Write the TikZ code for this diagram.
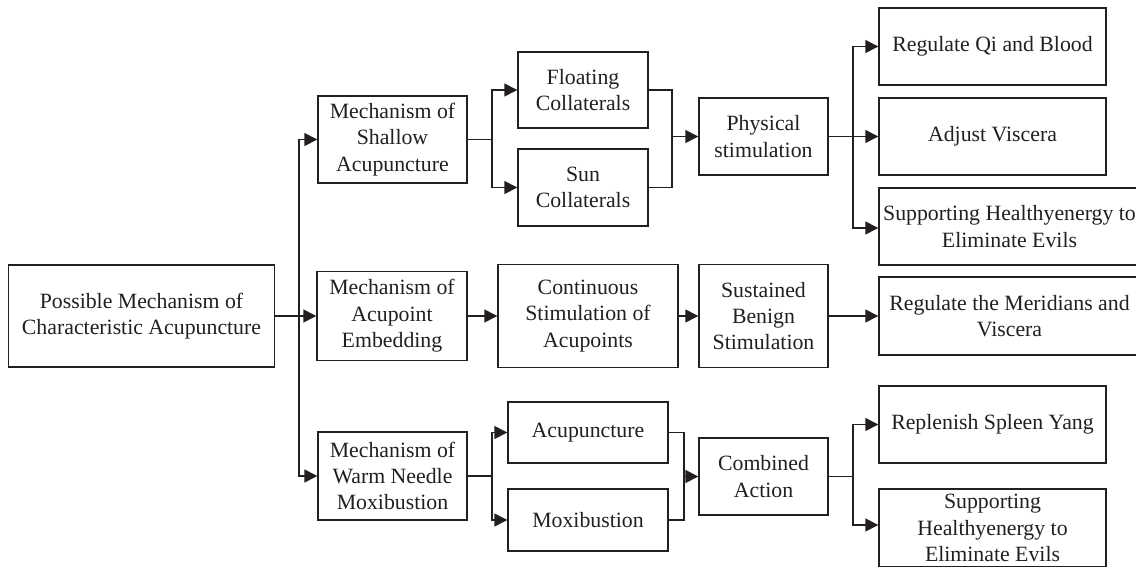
\documentclass[tikz,border=0pt]{standalone}
\usepackage{fontspec}
\setmainfont{Liberation Serif}
\usetikzlibrary{arrows.meta}
\definecolor{ink}{HTML}{231F20}
\begin{document}
\begin{tikzpicture}[x=0.5pt,y=-0.5pt,
  every node/.style={font=\fontsize{10.9pt}{13.2pt}\selectfont, text=ink},
  box/.style={draw=ink, line width=0.7pt, align=center, inner sep=0pt},
  wh/.style 2 args={minimum width={0.5pt*#1}, minimum height={0.5pt*#2}},
  conn/.style={draw=ink, line width=0.7pt},
  arr/.style={conn, -{Triangle[length=6.5pt,width=6.5pt]}}]
\clip (0,0) rectangle (1136,567);
\fill[white] (0,0) rectangle (1136,567);
% nodes
\node[box, wh={266}{102}] (root) at (141.5,316) {Possible Mechanism of\\Characteristic Acupuncture};
\node[box, wh={149}{87}] (shallow) at (392.5,139.5) {Mechanism of\\Shallow\\Acupuncture};
\node[box, wh={150}{89}] (embed) at (392,316) {Mechanism of\\Acupoint\\Embedding};
\node[box, wh={149}{88}] (warm) at (392.5,476) {Mechanism of\\Warm Needle\\Moxibustion};
\node[box, wh={130}{76}] (float) at (583,90) {Floating\\Collaterals};
\node[box, wh={130}{77}] (sun) at (583,187.5) {Sun\\Collaterals};
\node[box, wh={180}{103}] (cont) at (588,316) {Continuous\\Stimulation of\\Acupoints};
\node[box, wh={160}{61}] (acu) at (588,432.5) {Acupuncture};
\node[box, wh={160}{62}] (moxi) at (588,520) {Moxibustion};
\node[box, wh={129}{77}] (phys) at (763.5,136.5) {Physical\\stimulation};
\node[box, wh={129}{103}] (sust) at (763.5,316) {Sustained\\Benign\\Stimulation};
\node[box, wh={129}{77}] (comb) at (763.5,476.5) {Combined\\Action};
\node[box, wh={227}{77}] (regqi) at (992.5,46.5) {Regulate Qi and Blood};
\node[box, wh={227}{77}] (adjust) at (992.5,136.5) {Adjust Viscera};
\node[box, wh={261}{77}] (supp1) at (1009.5,226.5) {Supporting Healthyenergy to\\Eliminate Evils};
\node[box, wh={261}{78}] (merid) at (1009.5,316) {Regulate the Meridians and\\Viscera};
\node[box, wh={227}{77}] (repl) at (992.5,424.5) {Replenish Spleen Yang};
\node[box, wh={227}{78}] (supp2) at (992.5,528) {Supporting\\Healthyenergy to\\Eliminate Evils};
% junction points
\coordinate (t) at (299,316);
\coordinate (s1) at (492,139.5);
\coordinate (m1) at (672,136.5);
\coordinate (p1) at (853,136.5);
\coordinate (s3) at (492,476);
\coordinate (m3) at (684,476.5);
\coordinate (p3) at (853,476.5);
% trunk
\draw[arr] (root.east) -- (embed.west);
\draw[arr] (t) |- (shallow.west);
\draw[arr] (t) |- (warm.west);
% top branch
\draw[conn] (shallow.east) -- (s1);
\draw[arr] (s1) |- (float.west);
\draw[arr] (s1) |- (sun.west);
\draw[conn] (float.east) -| (m1);
\draw[conn] (sun.east) -| (m1);
\draw[arr] (m1) -- (phys.west);
\draw[conn] (phys.east) -- (p1);
\draw[arr] (p1) |- (regqi.west);
\draw[arr] (p1) -- (adjust.west);
\draw[arr] (p1) |- ([yshift=-0.75pt]supp1.west);
% middle branch
\draw[arr] (embed.east) -- (cont.west);
\draw[arr] (cont.east) -- (sust.west);
\draw[arr] (sust.east) -- (merid.west);
% bottom branch
\draw[conn] (warm.east) -- (s3);
\draw[arr] (s3) |- (acu.west);
\draw[arr] (s3) |- (moxi.west);
\draw[conn] (acu.east) -| (m3);
\draw[conn] (moxi.east) -| (m3);
\draw[arr] (m3) -- (comb.west);
\draw[conn] (comb.east) -- (p3);
\draw[arr] (p3) |- (repl.west);
\draw[arr] (p3) |- ([yshift=1.5pt]supp2.west);
\end{tikzpicture}
\end{document}
